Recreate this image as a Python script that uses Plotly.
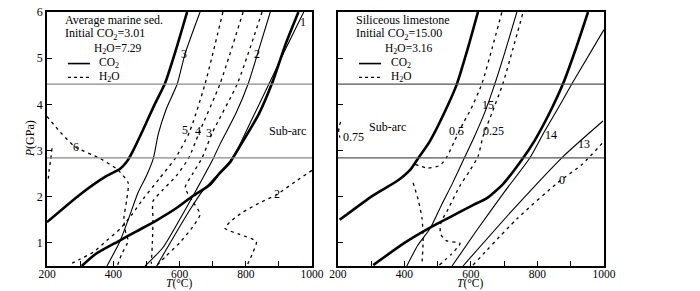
import plotly.graph_objects as go

# ---------------- data: left panel (Average marine sed.) ----------------
A_thick_T = [200, 300, 380, 420, 440, 460, 490, 525, 556, 590, 623]
A_thick_P = [1.45, 2.05, 2.45, 2.6, 2.75, 3.0, 3.45, 4.0, 4.45, 5.2, 6.0]
A_thickB_T = [305, 345, 414, 470, 531, 590, 641, 692, 720, 753, 783, 840, 879, 920, 959]
A_thickB_P = [0.5, 0.75, 1.03, 1.25, 1.49, 1.75, 2.02, 2.26, 2.5, 2.75, 3.1, 3.8, 4.45, 5.3, 6.0]
A_co2_3_T = [381, 420, 445, 475, 500, 521, 536, 560, 593, 617, 662]
A_co2_3_P = [0.5, 1.03, 1.5, 2.09, 2.45, 2.83, 3.36, 3.9, 4.44, 5.1, 6.0]
A_co2_2_T = [496, 550, 600, 641, 670, 700, 723, 770, 807, 840, 874]
A_co2_2_P = [0.5, 0.9, 1.5, 2.02, 2.4, 2.8, 3.15, 3.8, 4.44, 5.2, 6.0]
A_co2_1_T = [531, 580, 630, 667, 705, 745, 780, 820, 870, 920, 975]
A_co2_1_P = [0.5, 1.1, 1.7, 2.1, 2.4, 2.7, 3.1, 3.7, 4.44, 5.2, 6.0]
A_h2o_6_T = [200, 240, 285, 360, 414, 445, 441, 432, 438, 445, 425, 412]
A_h2o_6_P = [3.74, 3.4, 3.08, 2.83, 2.58, 2.3, 1.95, 1.52, 1.2, 1.05, 0.75, 0.5]
A_h2o_6b_T = [215, 211, 206, 203]
A_h2o_6b_P = [3.05, 2.8, 2.55, 2.3]
A_h2o_5_T = [731, 677, 630, 588, 540, 490, 455, 420, 380, 340, 300, 265]
A_h2o_5_P = [6.0, 4.44, 3.4, 2.84, 2.4, 1.95, 1.6, 1.3, 1.05, 0.8, 0.65, 0.52]
A_h2o_4_T = [792, 722, 660, 628, 590, 550, 520, 520, 518, 515]
A_h2o_4_P = [6.0, 4.44, 3.4, 2.84, 2.45, 2.15, 1.9, 1.5, 1.0, 0.55]
A_h2o_3_T = [849, 774, 700, 668, 640, 617, 640, 662, 640, 600, 560, 530]
A_h2o_3_P = [6.0, 4.44, 3.4, 2.84, 2.5, 2.2, 1.9, 1.62, 1.35, 1.0, 0.72, 0.5]
A_h2o_2_T = [1000, 950, 894, 840, 792, 760, 737, 783, 832, 822, 803]
A_h2o_2_P = [2.57, 2.33, 2.05, 1.86, 1.67, 1.5, 1.32, 1.18, 1.03, 0.8, 0.5]

# ---------------- data: right panel (Siliceous limestone) ----------------
B_thickC_T = [205, 306, 380, 417, 441, 477, 531, 558, 590, 621]
B_thickC_P = [1.5, 2.03, 2.35, 2.58, 2.83, 3.21, 3.99, 4.45, 5.2, 6.0]
B_thickD_T = [306, 400, 477, 540, 606, 648, 697, 753, 790, 838, 877, 915, 952]
B_thickD_P = [0.52, 1.0, 1.33, 1.57, 1.82, 1.97, 2.28, 2.8, 3.2, 3.84, 4.45, 5.2, 6.0]
B_co2_15_T = [407, 440, 477, 510, 545, 582, 610, 640, 672, 705, 738]
B_co2_15_P = [0.5, 0.95, 1.31, 1.8, 2.3, 2.87, 3.3, 3.8, 4.45, 5.2, 6.0]
B_co2_14_T = [543, 620, 700, 778, 820, 868, 904, 1000]
B_co2_14_P = [0.5, 1.3, 2.1, 2.85, 3.4, 3.99, 4.45, 5.62]
B_co2_13_T = [576, 720, 877, 997]
B_co2_13_P = [0.5, 1.67, 2.87, 3.64]
B_h2o_0_T = [606, 738, 860, 934, 1000]
B_h2o_0_P = [0.52, 1.52, 2.3, 2.7, 3.2]
B_h2o_05_T = [432, 470, 507, 528, 550, 577, 600, 633, 663, 693]
B_h2o_05_P = [2.7, 2.62, 2.68, 2.87, 3.2, 3.6, 3.9, 4.45, 5.2, 6.0]
B_h2o_025_T = [505, 540, 567, 525, 508, 510, 531, 567, 595, 621, 636, 665, 696, 726, 757]
B_h2o_025_P = [0.52, 0.75, 0.99, 1.05, 1.2, 1.45, 1.73, 2.24, 2.55, 2.87, 3.3, 3.85, 4.45, 5.2, 6.0]
B_h2o_075a_T = [426, 441, 453, 456, 453]
B_h2o_075a_P = [2.3, 1.94, 1.52, 1.03, 0.6]
B_h2o_075b_T = [208, 203, 202, 206]
B_h2o_075b_P = [3.62, 3.5, 3.38, 3.28]

sub_arc_P = 4.44
mid_P = 2.84

FONT = "Liberation Serif"
fig = go.Figure()

def add(x, y, ax, width, dash=None):
    fig.add_trace(go.Scatter(
        x=x, y=y, mode="lines", xaxis="x" if ax == 1 else "x2", yaxis="y" if ax == 1 else "y2",
        line=dict(color="black", width=width, dash=dash, shape="spline", smoothing=0.6),
        showlegend=False, hoverinfo="skip"))

DASH = "3px,4px"
add(A_thick_T, A_thick_P, 1, 2.6)
add(A_thickB_T, A_thickB_P, 1, 2.6)
add(A_co2_3_T, A_co2_3_P, 1, 1.1)
add(A_co2_2_T, A_co2_2_P, 1, 1.1)
add(A_co2_1_T, A_co2_1_P, 1, 1.1)
for tx, py in [(A_h2o_6_T, A_h2o_6_P), (A_h2o_6b_T, A_h2o_6b_P), (A_h2o_5_T, A_h2o_5_P),
               (A_h2o_4_T, A_h2o_4_P), (A_h2o_3_T, A_h2o_3_P), (A_h2o_2_T, A_h2o_2_P)]:
    add(tx, py, 1, 1.3, DASH)
add(B_thickC_T, B_thickC_P, 2, 2.6)
add(B_thickD_T, B_thickD_P, 2, 2.6)
add(B_co2_15_T, B_co2_15_P, 2, 1.1)
add(B_co2_14_T, B_co2_14_P, 2, 1.1)
add(B_co2_13_T, B_co2_13_P, 2, 1.1)
for tx, py in [(B_h2o_0_T, B_h2o_0_P), (B_h2o_05_T, B_h2o_05_P), (B_h2o_025_T, B_h2o_025_P),
               (B_h2o_075a_T, B_h2o_075a_P), (B_h2o_075b_T, B_h2o_075b_P)]:
    add(tx, py, 2, 1.3, DASH)

shapes = []
for xr, yr, col in [("x", "y", "#8a8a8a"), ("x2", "y2", "#555555")]:
    for p in (sub_arc_P, mid_P):
        shapes.append(dict(type="line", xref=xr + " domain", yref=yr, x0=0, x1=1, y0=p, y1=p,
                           line=dict(color=col, width=1.2)))
for xr, yr in [("x", "y"), ("x2", "y2")]:
    shapes.append(dict(type="line", xref=xr + " domain", yref=yr + " domain", x0=0.079, x1=0.162,
                       y0=0.797, y1=0.797, line=dict(color="black", width=1.6)))
    shapes.append(dict(type="line", xref=xr + " domain", yref=yr + " domain", x0=0.079, x1=0.162,
                       y0=0.743, y1=0.743, line=dict(color="black", width=1.3, dash="3px,3px")))

ann = []
def txt(x, y, s, ax=1, size=12, xanchor="center", ref="data"):
    if ref == "data":
        xr, yr = ("x", "y") if ax == 1 else ("x2", "y2")
    else:
        xr, yr = ("x domain", "y domain") if ax == 1 else ("x2 domain", "y2 domain")
    ann.append(dict(x=x, y=y, xref=xr, yref=yr, text=s, showarrow=False, xanchor=xanchor,
                    yanchor="middle", font=dict(family=FONT, size=size, color="black")))

for ax, title, co2, h2o in [(1, "Average marine sed.", "3.01", "7.29"),
                            (2, "Siliceous limestone", "15.00", "3.16")]:
    txt(0.062, 0.968, title, ax, 12, "left", "dom")
    txt(0.062, 0.912, "Initial CO<sub>2</sub>=" + co2, ax, 12, "left", "dom")
    txt(0.17, 0.855, "H<sub>2</sub>O=" + h2o, ax, 11.5, "left", "dom")
    txt(0.19, 0.80, "CO<sub>2</sub>", ax, 11.5, "left", "dom")
    txt(0.19, 0.745, "H<sub>2</sub>O", ax, 11.5, "left", "dom")

txt(925, 3.42, "Sub-arc", 1)
txt(614, 5.09, "3", 1)
txt(834, 5.09, "2", 1)
txt(972, 5.79, "1", 1)
txt(617, 3.45, "5", 1)
txt(656, 3.42, "4", 1)
txt(689, 3.37, "3", 1)
txt(287, 3.08, "6", 1)
txt(894, 2.05, "2", 1)
txt(350, 3.52, "Sub-arc", 2)
txt(247, 3.3, "0.75", 2)
txt(555, 3.42, "0.5", 2)
txt(651, 3.99, "15", 2)
txt(669, 3.42, "0.25", 2)
txt(841, 3.33, "14", 2)
txt(940, 3.15, "13", 2)
txt(874, 2.36, "0", 2)

for xr in ("x domain", "x2 domain"):
    ann.append(dict(x=0.5, y=-0.068, xref=xr, yref="paper", text="<i>T</i>(°C)", showarrow=False,
                    yanchor="middle", font=dict(family=FONT, size=11.5, color="black")))
ann.append(dict(x=-0.03, y=0.5, xref="paper", yref="paper", text="<i>P</i>(GPa)", showarrow=False,
                textangle=-90, xanchor="center", font=dict(family=FONT, size=12, color="black")))

x_common = dict(range=[200, 1000], tickmode="linear", tick0=200, dtick=200, ticks="inside", ticklen=5,
                showline=True, linecolor="black", linewidth=1.5, mirror=True, showgrid=False,
                zeroline=False, tickfont=dict(family=FONT, size=11.5, color="black"),
                ticklabelstandoff=-4,
                minor=dict(dtick=100, tick0=200, ticks="inside", ticklen=5, tickcolor="black"),
                tickcolor="black")
y_common = dict(range=[0.5, 6], tickmode="linear", tick0=1, dtick=1, ticks="inside", ticklen=5,
                showline=True, linecolor="black", linewidth=1.5, mirror=True, showgrid=False,
                zeroline=False, tickfont=dict(family=FONT, size=12, color="black"), tickcolor="black")

fig.update_layout(
    width=700, height=291, margin=dict(l=47, r=96, t=5, b=25),
    paper_bgcolor="white", plot_bgcolor="white", showlegend=False,
    xaxis=dict(domain=[0, 0.4758], anchor="y", **x_common),
    xaxis2=dict(domain=[0.5224, 1], anchor="y2", **x_common),
    yaxis=dict(domain=[0, 1], anchor="x", **y_common),
    yaxis2=dict(domain=[0, 1], anchor="x2", showticklabels=False, **y_common),
    shapes=shapes, annotations=ann,
)
fig.write_html("out.html", config={"displayModeBar": False},
               post_script="document.body.style.margin='0px';document.body.style.overflow='hidden';")
